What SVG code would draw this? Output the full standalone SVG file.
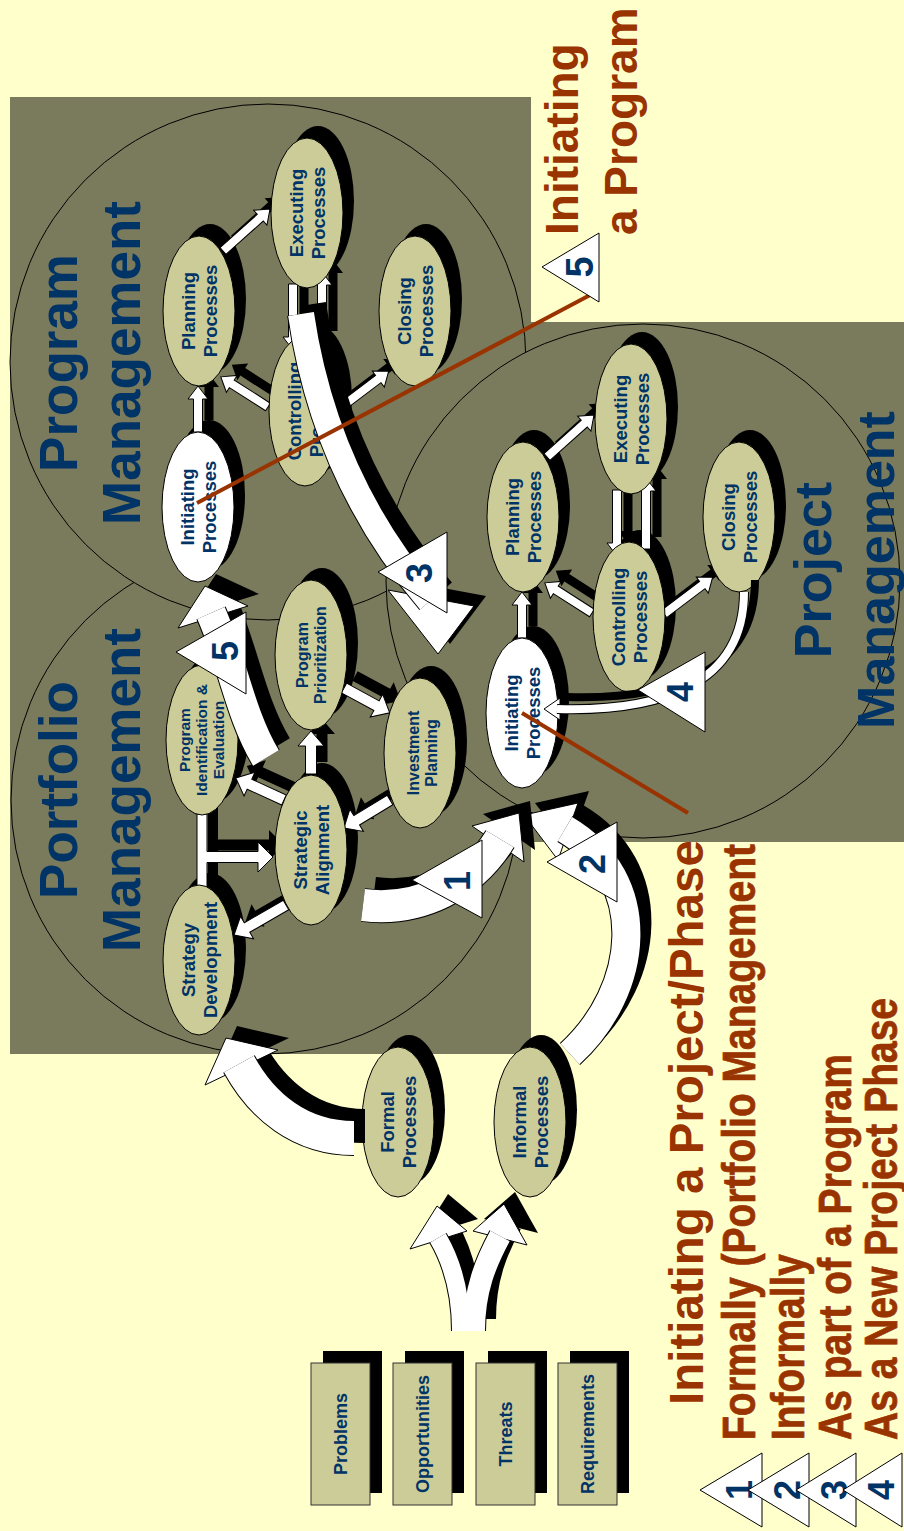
<svg xmlns="http://www.w3.org/2000/svg" width="904" height="1531" viewBox="0 0 904 1531">
<style>
.bg{fill:#FFFFCC}
.ol{fill:#7A7A5C}
.cir{fill:#7A7A5C;stroke:#000;stroke-width:1}
.ttl{font-family:"Liberation Sans",Arial,sans-serif;font-weight:bold;fill:#003366;font-size:53px;text-anchor:middle}
.sh{fill:#000}
.nd{fill:#CCCC99;stroke:#000;stroke-width:1}
.ni{fill:#FFFFFF;stroke:#000;stroke-width:1}
.nt{font-family:"Liberation Sans",Arial,sans-serif;font-weight:bold;fill:#003366;font-size:18.5px;text-anchor:middle}
.ns{font-size:16px}
.aw{fill:#FFFFFF;stroke:#000;stroke-width:1}
.ab{fill:#000}
.bs{fill:none;stroke:#000}
.bo{fill:none;stroke:#000}
.bw{fill:none;stroke:#FFFFFF}
.tri{fill:#FFFFFF;stroke:#000;stroke-width:1}
.num{font-family:"Liberation Sans",Arial,sans-serif;font-weight:bold;fill:#003366;font-size:36px;text-anchor:middle}
.red{font-family:"Liberation Sans",Arial,sans-serif;font-weight:bold;fill:#993300}
.thk{stroke:#993300;stroke-width:0.7}
.bl{stroke:#993300;stroke-width:4;fill:none}
.box{fill:#CCCC99;stroke:#333;stroke-width:1}
</style>
<defs>
<g id="procArrows">
<polygon class="ab" transform="translate(533,626) rotate(-90)" points="0,-4.5 33,-4.5 33,-10 46,0 33,10 33,4.5 0,4.5"/>
<polygon class="ab" transform="translate(558,445) rotate(-41.8)" points="0,-4.5 50,-4.5 50,-10 63,0 50,10 50,4.5 0,4.5"/>
<polygon class="ab" transform="translate(603,601) rotate(-147.4)" points="0,-4.5 43,-4.5 43,-10 56,0 43,10 43,4.5 0,4.5"/>
<polygon class="ab" transform="translate(628,478) rotate(90)" points="0,-4.5 53,-4.5 53,-10 66,0 53,10 53,4.5 0,4.5"/>
<polygon class="ab" transform="translate(657,537) rotate(-90)" points="0,-4.5 58,-4.5 58,-10 71,0 58,10 58,4.5 0,4.5"/>
<polygon class="ab" transform="translate(675,602) rotate(-37.1)" points="0,-4.5 48,-4.5 48,-10 61,0 48,10 48,4.5 0,4.5"/>
<polygon class="aw" transform="translate(522,638) rotate(-90)" points="0,-4.5 33,-4.5 33,-10 46,0 33,10 33,4.5 0,4.5"/>
<polygon class="aw" transform="translate(547,457) rotate(-41.8)" points="0,-4.5 50,-4.5 50,-10 63,0 50,10 50,4.5 0,4.5"/>
<polygon class="aw" transform="translate(592,613) rotate(-147.4)" points="0,-4.5 43,-4.5 43,-10 56,0 43,10 43,4.5 0,4.5"/>
<polygon class="aw" transform="translate(617,490) rotate(90)" points="0,-4.5 53,-4.5 53,-10 66,0 53,10 53,4.5 0,4.5"/>
<polygon class="aw" transform="translate(646,549) rotate(-90)" points="0,-4.5 58,-4.5 58,-10 71,0 58,10 58,4.5 0,4.5"/>
<polygon class="aw" transform="translate(664,614) rotate(-37.1)" points="0,-4.5 48,-4.5 48,-10 61,0 48,10 48,4.5 0,4.5"/>
</g>
</defs>

<rect class="bg" x="0" y="0" width="904" height="1531"/>

<g id="legend">
<text class="red" font-size="47.5" transform="translate(703,1405) rotate(-90)">Initiating a Project/Phase</text>
<text class="red thk" font-size="46" transform="translate(755,1440) rotate(-90)" textLength="596" lengthAdjust="spacingAndGlyphs">Formally (Portfolio Management</text>
<text class="red thk" font-size="46" transform="translate(804,1440) rotate(-90)" textLength="186" lengthAdjust="spacingAndGlyphs">Informally</text>
<text class="red thk" font-size="46" transform="translate(851,1440) rotate(-90)" textLength="386" lengthAdjust="spacingAndGlyphs">As part of a Program</text>
<text class="red thk" font-size="46" transform="translate(897,1440) rotate(-90)" textLength="442" lengthAdjust="spacingAndGlyphs">As a New Project Phase</text>
<polygon class="tri" points="700,1490 762,1453 762,1527"/>
<text class="num" transform="translate(752,1490) rotate(-90)">1</text>
<polygon class="tri" points="748,1490 809,1453 809,1527"/>
<text class="num" transform="translate(800,1490) rotate(-90)">2</text>
<polygon class="tri" points="796,1490 856,1453 856,1527"/>
<text class="num" transform="translate(847,1490) rotate(-90)">3</text>
<polygon class="tri" points="843,1490 902,1453 902,1527"/>
<text class="num" transform="translate(894,1490) rotate(-90)">4</text>
</g>

<g id="program-title-top">
<text class="red" font-size="46" transform="translate(578,235) rotate(-90)">Initiating</text>
<text class="red" font-size="46" transform="translate(637,235) rotate(-90)">a Program</text>
</g>

<g id="areas">
<rect class="ol" x="10" y="97" width="521" height="957"/>
<rect class="ol" x="530" y="322" width="374" height="520"/>
<circle id="portfolio-circle" class="cir" cx="265" cy="800" r="254"/>
<circle id="program-circle" class="cir" cx="268" cy="362" r="258"/>
<circle id="project-circle" class="cir" cx="643" cy="581" r="257"/>
</g>

<g id="titles">
<text class="ttl" transform="translate(77,363) rotate(-90)">Program</text>
<text class="ttl" transform="translate(140,363) rotate(-90)">Management</text>
<text class="ttl" transform="translate(77,790) rotate(-90)">Portfolio</text>
<text class="ttl" transform="translate(140,790) rotate(-90)">Management</text>
<text class="ttl" style="font-size:52px" transform="translate(831,570) rotate(-90)">Project</text>
<text class="ttl" style="font-size:52px" transform="translate(894,570) rotate(-90)">Management</text>
</g>

<g id="node-shadows">
<ellipse class="sh" cx="534" cy="505" rx="36" ry="75"/>
<ellipse class="sh" cx="642" cy="407" rx="36" ry="75"/>
<ellipse class="sh" cx="750" cy="505" rx="36" ry="75"/>
<ellipse class="sh" cx="640" cy="605" rx="36" ry="75"/>
<ellipse class="sh" cx="533" cy="701" rx="36" ry="75"/>
<ellipse class="sh" cx="210" cy="299" rx="36" ry="75"/>
<ellipse class="sh" cx="318" cy="201" rx="36" ry="75"/>
<ellipse class="sh" cx="426" cy="299" rx="36" ry="75"/>
<ellipse class="sh" cx="316" cy="399" rx="36" ry="75"/>
<ellipse class="sh" cx="209" cy="495" rx="36" ry="75"/>
<ellipse class="sh" cx="213" cy="728" rx="36" ry="75"/>
<ellipse class="sh" cx="322" cy="643" rx="36" ry="75"/>
<ellipse class="sh" cx="431" cy="741" rx="36" ry="75"/>
<ellipse class="sh" cx="322" cy="838" rx="36" ry="75"/>
<ellipse class="sh" cx="210" cy="948" rx="36" ry="75"/>
<ellipse class="sh" cx="409" cy="1110" rx="36" ry="75"/>
<ellipse class="sh" cx="541" cy="1110" rx="36" ry="75"/>
</g>

<g id="connectors">
<use href="#procArrows"/>
<use href="#procArrows" transform="translate(-324,-206)"/>
<polygon class="ab" transform="translate(295,788) rotate(-155.4)" points="0,-5.5 38,-5.5 38,-13 53,0 38,13 38,5.5 0,5.5"/>
<polygon class="ab" transform="translate(322,762) rotate(-90)" points="0,-5.5 28,-5.5 28,-13 43,0 28,13 28,5.5 0,5.5"/>
<polygon class="ab" transform="translate(355,676) rotate(28.5)" points="0,-5.5 37,-5.5 37,-13 52,0 37,13 37,5.5 0,5.5"/>
<polygon class="ab" transform="translate(401,788) rotate(148.7)" points="0,-5.5 39,-5.5 39,-13 54,0 39,13 39,5.5 0,5.5"/>
<polygon class="ab" transform="translate(297,893) rotate(150)" points="0,-5.5 45,-5.5 45,-13 60,0 45,13 45,5.5 0,5.5"/>
<polygon class="ab" transform="translate(11,-12)" points="197,814 207,814 207,851.5 258,851.5 258,842 273,857 258,872 258,862.5 207,862.5 207,888 197,888"/>
<polygon class="aw" transform="translate(284,800) rotate(-155.4)" points="0,-5.5 38,-5.5 38,-13 53,0 38,13 38,5.5 0,5.5"/>
<polygon class="aw" transform="translate(311,774) rotate(-90)" points="0,-5.5 28,-5.5 28,-13 43,0 28,13 28,5.5 0,5.5"/>
<polygon class="aw" transform="translate(344,688) rotate(28.5)" points="0,-5.5 37,-5.5 37,-13 52,0 37,13 37,5.5 0,5.5"/>
<polygon class="aw" transform="translate(390,800) rotate(148.7)" points="0,-5.5 39,-5.5 39,-13 54,0 39,13 39,5.5 0,5.5"/>
<polygon class="aw" transform="translate(286,905) rotate(150)" points="0,-5.5 45,-5.5 45,-13 60,0 45,13 45,5.5 0,5.5"/>
<polygon class="aw" points="197,814 207,814 207,851.5 258,851.5 258,842 273,857 258,872 258,862.5 207,862.5 207,888 197,888"/>
</g>

<g id="prj-planning" transform="translate(523,517)"><ellipse class="nd" rx="36" ry="75"/><text class="nt" transform="rotate(-90)"><tspan x="0" y="-4.4">Planning</tspan><tspan x="0" y="17.6">Processes</tspan></text></g>
<g id="prj-executing" transform="translate(631,419)"><ellipse class="nd" rx="36" ry="75"/><text class="nt" transform="rotate(-90)"><tspan x="0" y="-4.4">Executing</tspan><tspan x="0" y="17.6">Processes</tspan></text></g>
<g id="prj-closing" transform="translate(739,517)"><ellipse class="nd" rx="36" ry="75"/><text class="nt" transform="rotate(-90)"><tspan x="0" y="-4.4">Closing</tspan><tspan x="0" y="17.6">Processes</tspan></text></g>
<g id="prj-controlling" transform="translate(629,617)"><ellipse class="nd" rx="36" ry="75"/><text class="nt" transform="rotate(-90)"><tspan x="0" y="-4.4">Controlling</tspan><tspan x="0" y="17.6">Processes</tspan></text></g>
<g id="prj-initiating" transform="translate(522,713)"><ellipse class="ni" rx="36" ry="75"/><text class="nt" transform="rotate(-90)"><tspan x="0" y="-4.4">Initiating</tspan><tspan x="0" y="17.6">Processes</tspan></text></g>

<g id="prg-planning" transform="translate(199,311)"><ellipse class="nd" rx="36" ry="75"/><text class="nt" transform="rotate(-90)"><tspan x="0" y="-4.4">Planning</tspan><tspan x="0" y="17.6">Processes</tspan></text></g>
<g id="prg-executing" transform="translate(307,213)"><ellipse class="nd" rx="36" ry="75"/><text class="nt" transform="rotate(-90)"><tspan x="0" y="-4.4">Executing</tspan><tspan x="0" y="17.6">Processes</tspan></text></g>
<g id="prg-closing" transform="translate(415,311)"><ellipse class="nd" rx="36" ry="75"/><text class="nt" transform="rotate(-90)"><tspan x="0" y="-4.4">Closing</tspan><tspan x="0" y="17.6">Processes</tspan></text></g>
<g id="prg-controlling" transform="translate(305,411)"><ellipse class="nd" rx="36" ry="75"/><text class="nt" transform="rotate(-90)"><tspan x="0" y="-4.4">Controlling</tspan><tspan x="0" y="17.6">Processes</tspan></text></g>
<g id="prg-initiating" transform="translate(198,507)"><ellipse class="ni" rx="36" ry="75"/><text class="nt" transform="rotate(-90)"><tspan x="0" y="-4.4">Initiating</tspan><tspan x="0" y="17.6">Processes</tspan></text></g>

<g id="pf-identification" transform="translate(202,740)"><ellipse class="nd" rx="36" ry="75"/><text class="nt" style="font-size:15.5px" transform="rotate(-90)"><tspan x="0" y="-12">Program</tspan><tspan x="0" y="5">Identification &amp;</tspan><tspan x="0" y="22">Evaluation</tspan></text></g>
<g id="pf-prioritization" transform="translate(311,655)"><ellipse class="nd" rx="36" ry="75"/><text class="nt ns" transform="rotate(-90)"><tspan x="0" y="-3">Program</tspan><tspan x="0" y="15">Prioritization</tspan></text></g>
<g id="pf-investment" transform="translate(420,753)"><ellipse class="nd" rx="36" ry="75"/><text class="nt ns" transform="rotate(-90)"><tspan x="0" y="-1">Investment</tspan><tspan x="0" y="17">Planning</tspan></text></g>
<g id="pf-alignment" transform="translate(311,850)"><ellipse class="nd" rx="36" ry="75"/><text class="nt" transform="rotate(-90)"><tspan x="0" y="-4.4">Strategic</tspan><tspan x="0" y="17.6">Alignment</tspan></text></g>
<g id="pf-strategy" transform="translate(199,960)"><ellipse class="nd" rx="36" ry="75"/><text class="nt" transform="rotate(-90)"><tspan x="0" y="-4">Strategy</tspan><tspan x="0" y="18">Development</tspan></text></g>

<g id="formal" transform="translate(398,1122)"><ellipse class="nd" rx="36" ry="75"/><text class="nt" transform="rotate(-90)"><tspan x="0" y="-4.4">Formal</tspan><tspan x="0" y="17.6">Processes</tspan></text></g>
<g id="informal" transform="translate(530,1122)"><ellipse class="nd" rx="36" ry="75"/><text class="nt" transform="rotate(-90)"><tspan x="0" y="-4.4">Informal</tspan><tspan x="0" y="17.6">Processes</tspan></text></g>

<g id="box-problems"><rect class="sh" x="323" y="1351" width="59" height="142"/><rect class="box" x="311" y="1363" width="59" height="142"/><text class="nt" style="font-size:18px" transform="translate(347,1434) rotate(-90)">Problems</text></g>
<g id="box-opportunities"><rect class="sh" x="405" y="1351" width="59" height="142"/><rect class="box" x="393" y="1363" width="59" height="142"/><text class="nt" style="font-size:18px" transform="translate(429,1434) rotate(-90)">Opportunities</text></g>
<g id="box-threats"><rect class="sh" x="488" y="1351" width="59" height="142"/><rect class="box" x="476" y="1363" width="59" height="142"/><text class="nt" style="font-size:18px" transform="translate(512,1434) rotate(-90)">Threats</text></g>
<g id="box-requirements"><rect class="sh" x="570" y="1351" width="59" height="142"/><rect class="box" x="558" y="1363" width="59" height="142"/><text class="nt" style="font-size:18px" transform="translate(594,1434) rotate(-90)">Requirements</text></g>

<g id="flow-connectors">
<g transform="translate(11,-12)">
<path class="bs" stroke-width="18" d="M461,1331 C461,1290 452,1262 438,1238"/>
<path class="bs" stroke-width="22" d="M474,1331 C474,1290 486,1262 500,1236"/>
<polygon class="ab" points="410,1249 467,1231 437,1206"/>
<polygon class="ab" points="473,1231 527,1245 504,1204"/>
</g>
<polygon class="aw" points="410,1249 467,1231 437,1206"/>
<polygon class="aw" points="473,1231 527,1245 504,1204"/>
<path class="bo" stroke-width="20" d="M461,1331 C461,1290 452,1262 438,1238"/>
<path class="bo" stroke-width="24" d="M474,1331 C474,1290 486,1262 500,1236"/>
<path class="bw" stroke-width="18" d="M461,1331 C461,1290 452,1262 438,1238"/>
<path class="bw" stroke-width="22" d="M474,1331 C474,1290 486,1262 500,1236"/>

<g transform="translate(11,-12)">
<path class="bs" stroke-width="34" d="M354,1138 C300,1138 262,1106 239,1064"/>
<polygon class="ab" points="205,1085 278,1050 226,1038"/>
</g>
<polygon class="aw" points="205,1085 278,1050 226,1038"/>
<path class="bo" stroke-width="36" d="M354,1138 C300,1138 262,1106 239,1064"/>
<path class="bw" stroke-width="34" d="M354,1138 C300,1138 262,1106 239,1064"/>

<g transform="translate(11,-12)">
<path class="bs" stroke-width="28" d="M570,1054 C640,990 652,880 565,829"/>
<polygon class="ab" points="578,803 558,860 524,815"/>
</g>
<polygon class="aw" points="578,803 558,860 524,815"/>
<path class="bo" stroke-width="30" d="M570,1054 C640,990 652,880 565,829"/>
<path class="bw" stroke-width="28" d="M570,1054 C640,990 652,880 565,829"/>

<g transform="translate(11,-12)">
<path class="bs" stroke-width="32" d="M363,905 C420,912 472,885 500,839"/>
<polygon class="ab" points="472,826 524,862 519,813"/>
</g>
<polygon class="aw" points="472,826 524,862 519,813"/>
<path class="bo" stroke-width="34" d="M363,905 C420,912 472,885 500,839"/>
<path class="bw" stroke-width="32" d="M363,905 C420,912 472,885 500,839"/>

<g transform="translate(11,-12)">
<path class="bs" stroke-width="30" d="M266,758 C240,715 232,660 211,613"/>
<polygon class="ab" points="178,628 248,606 205,586"/>
</g>
<polygon class="aw" points="178,628 248,606 205,586"/>
<path class="bo" stroke-width="32" d="M266,758 C240,715 232,660 211,613"/>
<path class="bw" stroke-width="30" d="M266,758 C240,715 232,660 211,613"/>

<g transform="translate(12,-10)">
<path class="bs" stroke-width="26" d="M301,314 C318,430 365,525 430,601"/>
<polygon class="ab" points="388,590 474,606 438,654"/>
</g>
<polygon class="aw" points="388,590 474,606 438,654"/>
<path class="bo" stroke-width="28" d="M301,314 C318,430 365,525 430,601"/>
<path class="bw" stroke-width="26" d="M301,314 C318,430 365,525 430,601"/>

<g transform="translate(11,-12)">
<path class="bs" stroke-width="8" d="M744,592 C744,685 660,712 556,709"/>
</g>
<polygon class="aw" points="560,698 560,720 544,709"/>
<path class="bo" stroke-width="10" d="M744,592 C744,685 660,712 557,709"/>
<path class="bw" stroke-width="8" d="M744,592 C744,685 660,712 557,709"/>
</g>

<g id="links">
<line class="bl" x1="592" y1="294" x2="197" y2="503"/>
<line class="bl" x1="522" y1="713" x2="688" y2="813"/>
</g>

<g id="markers">
<polygon class="tri" points="378,572 447,532 447,613"/>
<text class="num" transform="translate(432,573) rotate(-90)">3</text>
<polygon class="tri" points="638,690 705,652 705,732"/>
<text class="num" transform="translate(693,692) rotate(-90)">4</text>
<polygon class="tri" points="412,880 482,840 482,918"/>
<text class="num" transform="translate(470,881) rotate(-90)">1</text>
<polygon class="tri" points="547,862 617,822 617,902"/>
<text class="num" transform="translate(605,864) rotate(-90)">2</text>
<polygon class="tri" points="176,652 246,612 246,694"/>
<text class="num" transform="translate(238,651) rotate(-90)">5</text>
<polygon class="tri" points="542,267 599,233 599,302"/>
<text class="num" style="font-size:38px" transform="translate(593,267) rotate(-90)">5</text>
</g>
</svg>
